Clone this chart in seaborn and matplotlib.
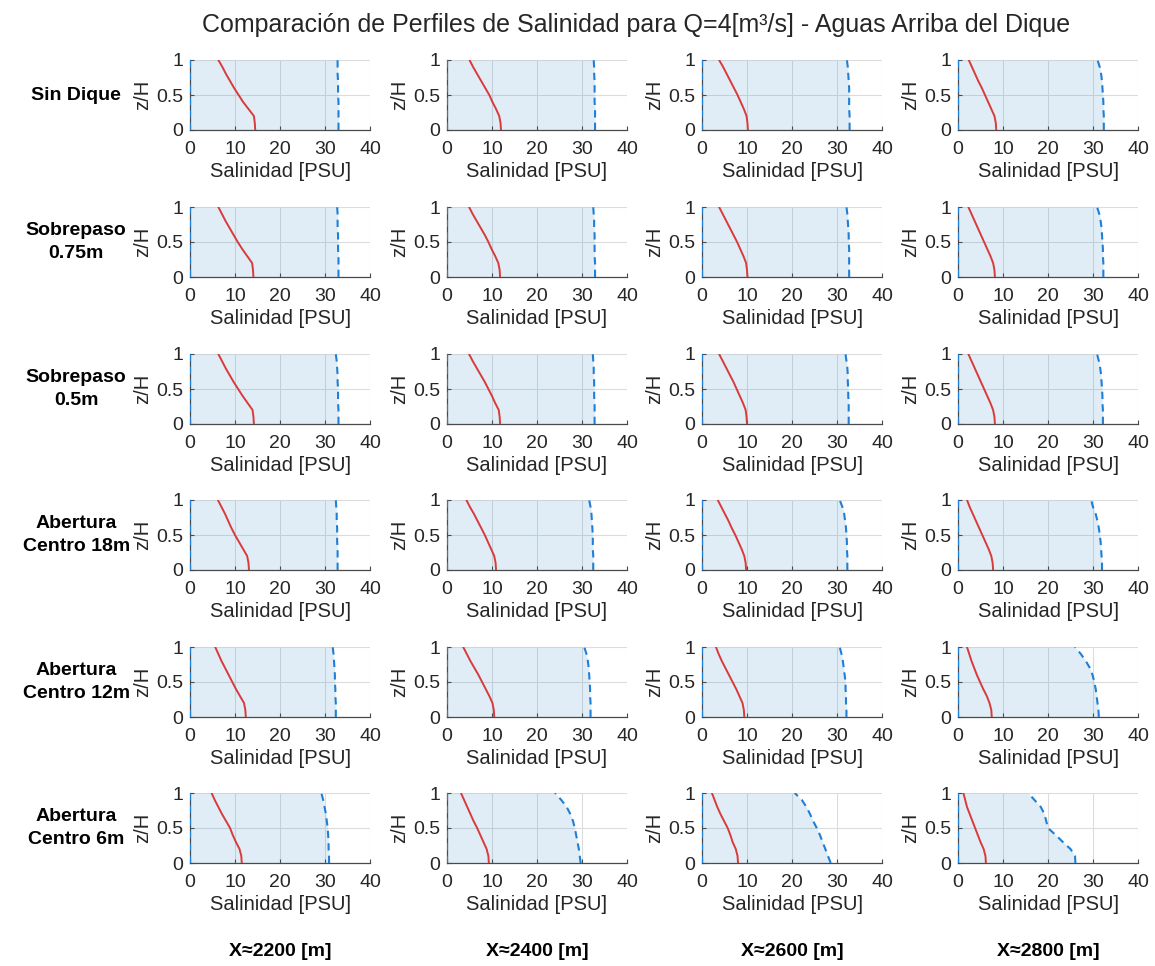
import numpy as np
import pandas as pd
import matplotlib
matplotlib.use("Agg")
import matplotlib.pyplot as plt
import seaborn as sns

# ---------------- data ----------------
title = "Comparación de Perfiles de Salinidad para Q=4[m³/s] - Aguas Arriba del Dique"
row_labels = ["Sin Dique", "Sobrepaso\n0.75m", "Sobrepaso\n0.5m",
              "Abertura\nCentro 18m", "Abertura\nCentro 12m", "Abertura\nCentro 6m"]
col_labels = ["X≈2200 [m]", "X≈2400 [m]", "X≈2600 [m]", "X≈2800 [m]"]
x_ticks = [0, 10, 20, 30, 40]
y_ticks = [0, 0.5, 1]
y_ticklabels = ["0", "0.5", "1"]

z = [0.0, 0.1, 0.2, 0.3, 0.4, 0.5, 0.6, 0.7, 0.8, 0.9, 1.0]
min_profile = [0.0, 0.0, 0.0, 0.0, 0.0, 0.0, 0.0, 0.0, 0.0, 0.0, 0.0]

mean_sin_dique = [
    [14.5, 14.4, 14.2, 13.0, 11.8, 10.8, 9.8, 8.9, 8.0, 7.2, 6.3],
    [12.0, 11.9, 11.6, 10.9, 10.1, 9.4, 8.5, 7.6, 6.7, 5.8, 5.0],
    [10.2, 10.1, 9.9, 9.3, 8.6, 7.9, 7.1, 6.3, 5.5, 4.7, 3.8],
    [8.5, 8.4, 8.1, 7.4, 6.7, 6.0, 5.3, 4.5, 3.8, 3.1, 2.4],
]
max_sin_dique = [
    [33.0, 33.0, 33.0, 33.0, 33.0, 32.9, 32.9, 32.9, 32.8, 32.8, 32.8],
    [32.9, 32.9, 32.9, 32.9, 32.8, 32.8, 32.8, 32.8, 32.7, 32.7, 32.6],
    [32.8, 32.8, 32.8, 32.7, 32.7, 32.7, 32.7, 32.6, 32.5, 32.4, 32.2],
    [32.4, 32.4, 32.4, 32.3, 32.3, 32.2, 32.1, 32.0, 31.8, 31.5, 31.0],
]
mean_sobrepaso_075 = [
    [14.1, 14.0, 13.8, 12.7, 11.6, 10.6, 9.7, 8.8, 7.9, 7.1, 6.3],
    [11.8, 11.7, 11.4, 10.7, 9.9, 9.2, 8.4, 7.5, 6.6, 5.7, 4.9],
    [10.1, 10.0, 9.8, 9.2, 8.5, 7.8, 7.0, 6.2, 5.4, 4.6, 3.8],
    [8.2, 8.1, 7.8, 7.2, 6.5, 5.8, 5.1, 4.4, 3.7, 3.0, 2.3],
]
max_sobrepaso_075 = [
    [33.0, 33.0, 33.0, 33.0, 32.9, 32.9, 32.9, 32.8, 32.8, 32.8, 32.7],
    [32.9, 32.9, 32.9, 32.8, 32.8, 32.8, 32.8, 32.7, 32.7, 32.6, 32.5],
    [32.7, 32.7, 32.7, 32.7, 32.7, 32.6, 32.6, 32.5, 32.4, 32.3, 32.1],
    [32.3, 32.3, 32.3, 32.2, 32.2, 32.1, 32.0, 31.9, 31.7, 31.4, 30.9],
]
mean_sobrepaso_05 = [
    [14.2, 14.1, 13.9, 12.8, 11.7, 10.7, 9.7, 8.8, 7.9, 7.1, 6.3],
    [11.8, 11.7, 11.5, 10.7, 10.0, 9.2, 8.4, 7.5, 6.6, 5.7, 4.9],
    [10.0, 9.9, 9.7, 9.1, 8.4, 7.7, 7.0, 6.2, 5.4, 4.6, 3.8],
    [8.2, 8.1, 7.8, 7.2, 6.5, 5.8, 5.1, 4.4, 3.7, 3.0, 2.3],
]
max_sobrepaso_05 = [
    [33.0, 33.0, 33.0, 32.9, 32.9, 32.9, 32.8, 32.8, 32.7, 32.6, 32.4],
    [32.8, 32.8, 32.8, 32.8, 32.7, 32.7, 32.7, 32.6, 32.6, 32.5, 32.4],
    [32.6, 32.6, 32.6, 32.6, 32.5, 32.5, 32.4, 32.4, 32.3, 32.1, 31.9],
    [32.2, 32.2, 32.2, 32.1, 32.1, 32.0, 31.9, 31.8, 31.6, 31.3, 30.9],
]
mean_abertura_18 = [
    [13.1, 13.0, 12.7, 11.8, 10.9, 10.0, 9.2, 8.5, 7.8, 7.0, 6.2],
    [10.9, 10.8, 10.5, 9.8, 9.1, 8.4, 7.6, 6.8, 6.0, 5.1, 4.3],
    [9.8, 9.7, 9.4, 8.8, 8.1, 7.4, 6.6, 5.9, 5.1, 4.3, 3.5],
    [7.8, 7.7, 7.4, 6.8, 6.1, 5.4, 4.7, 4.0, 3.3, 2.6, 2.0],
]
max_abertura_18 = [
    [32.8, 32.8, 32.8, 32.8, 32.7, 32.7, 32.7, 32.6, 32.6, 32.5, 32.4],
    [32.5, 32.5, 32.5, 32.4, 32.4, 32.4, 32.3, 32.2, 32.1, 31.9, 31.6],
    [32.3, 32.3, 32.3, 32.2, 32.2, 32.1, 32.0, 31.8, 31.6, 31.2, 30.6],
    [32.0, 32.0, 31.9, 31.8, 31.7, 31.5, 31.3, 31.0, 30.6, 30.0, 29.6],
]
mean_abertura_12 = [
    [12.4, 12.3, 12.0, 11.1, 10.2, 9.4, 8.6, 7.8, 7.0, 6.3, 5.6],
    [10.5, 10.4, 10.1, 9.4, 8.6, 7.8, 7.0, 6.1, 5.2, 4.4, 3.6],
    [9.4, 9.3, 9.0, 8.3, 7.6, 6.8, 6.0, 5.2, 4.4, 3.7, 3.1],
    [7.5, 7.4, 7.0, 6.4, 5.6, 4.9, 4.2, 3.6, 3.0, 2.5, 2.0],
]
max_abertura_12 = [
    [32.4, 32.4, 32.4, 32.3, 32.3, 32.2, 32.2, 32.1, 32.0, 31.9, 31.7],
    [31.9, 31.9, 31.9, 31.8, 31.8, 31.7, 31.6, 31.5, 31.3, 31.0, 30.5],
    [32.1, 32.1, 32.0, 32.0, 31.9, 31.9, 31.7, 31.5, 31.3, 31.0, 30.6],
    [31.3, 31.2, 31.0, 30.8, 30.6, 30.3, 29.9, 29.3, 28.4, 27.3, 26.0],
]
mean_abertura_6 = [
    [11.5, 11.4, 11.0, 10.2, 9.5, 8.9, 8.0, 7.1, 6.3, 5.5, 4.8],
    [9.3, 9.2, 8.8, 8.1, 7.4, 6.7, 5.9, 5.2, 4.5, 3.8, 3.1],
    [8.0, 7.9, 7.5, 6.8, 6.3, 5.7, 4.9, 4.1, 3.4, 2.8, 2.2],
    [6.2, 6.1, 5.7, 5.0, 4.4, 3.8, 3.2, 2.6, 2.0, 1.6, 1.2],
]
max_abertura_6 = [
    [30.9, 30.9, 30.8, 30.8, 30.7, 30.6, 30.4, 30.2, 29.9, 29.6, 29.2],
    [29.7, 29.5, 29.3, 29.0, 28.7, 28.4, 28.0, 27.4, 26.6, 25.4, 24.0],
    [28.6, 28.0, 27.4, 26.8, 26.2, 25.5, 24.7, 24.0, 23.2, 22.2, 20.6],
    [26.1, 26.0, 25.0, 23.3, 21.7, 20.0, 19.6, 19.2, 18.4, 17.0, 15.6],
]

mean_rows = [mean_sin_dique, mean_sobrepaso_075, mean_sobrepaso_05,
             mean_abertura_18, mean_abertura_12, mean_abertura_6]
max_rows = [max_sin_dique, max_sobrepaso_075, max_sobrepaso_05,
            max_abertura_18, max_abertura_12, max_abertura_6]

# ---------------- style ----------------
sns.set_theme(style="white")
plt.rcParams['font.family'] = ['Liberation Sans', 'DejaVu Sans']

RED = "#d93a3a"
BLUE = "#1f7fd6"
FILL = "#0072BD"
AX_COL = "#4a4a4a"
TXT = "#262626"

W, H = 1155, 966
fig = plt.figure(figsize=(W / 100, H / 100), dpi=100)

col_left_px = [190, 447, 702, 958]
row_bottom_px = [130, 277, 424, 570, 717, 863]
ax_w_px, ax_h_px = 180, 70

for r in range(6):
    for c in range(4):
        l = col_left_px[c] / W
        b = 1 - row_bottom_px[r] / H
        ax = fig.add_axes([l, b, ax_w_px / W, ax_h_px / H])
        df = pd.DataFrame({"z": z, "mean": mean_rows[r][c],
                           "max": max_rows[r][c], "min": min_profile})
        ax.fill_betweenx(df["z"], df["min"], df["max"], color=FILL,
                         alpha=0.12, lw=0, zorder=2)
        sns.lineplot(data=df, x="min", y="z", orient="y", ax=ax, color=BLUE,
                     lw=1.5, linestyle=(0, (3.5, 2.5)), zorder=3)
        sns.lineplot(data=df, x="max", y="z", orient="y", ax=ax, color=BLUE,
                     lw=1.5, linestyle=(0, (3.5, 2.5)), zorder=3)
        sns.lineplot(data=df, x="mean", y="z", orient="y", ax=ax, color=RED,
                     lw=1.4, zorder=4)
        ax.set_xlim(0, 40)
        ax.set_ylim(0, 1)
        ax.set_xticks(x_ticks)
        ax.set_yticks(y_ticks)
        ax.set_yticklabels(y_ticklabels)
        ax.grid(True, color="#dcdcdc", lw=0.8, zorder=1)
        ax.set_axisbelow(True)
        for s in ["top", "right"]:
            ax.spines[s].set_visible(False)
        for s in ["left", "bottom"]:
            ax.spines[s].set_color(AX_COL)
            ax.spines[s].set_linewidth(0.9)
        ax.tick_params(axis="both", direction="in", length=3, width=0.8,
                       color=AX_COL, labelsize=14, labelcolor=TXT,
                       bottom=True, left=True)
        ax.tick_params(axis="x", pad=8)
        ax.tick_params(axis="y", pad=5)
        ax.set_xlabel("Salinidad [PSU]", fontsize=14.5, color=TXT, labelpad=3)
        ax.set_ylabel("z/H", fontsize=14.5, color=TXT, labelpad=3)
        ax.set_facecolor("white")

fig.text(0.551, 0.974, title, ha="center", va="center", fontsize=18, color=TXT)

for r, lab in enumerate(row_labels):
    yc = 1 - (row_bottom_px[r] - ax_h_px / 2) / H
    fig.text(0.066, yc, lab, ha="center", va="center", fontsize=14,
             fontweight="bold", color="black", linespacing=1.5)

for c, lab in enumerate(col_labels):
    xc = (col_left_px[c] + ax_w_px / 2) / W
    fig.text(xc, 1 - 952 / H, lab, ha="center", va="center", fontsize=14,
             fontweight="bold", color="black")

fig.savefig("out.png", dpi=100, facecolor="white")
